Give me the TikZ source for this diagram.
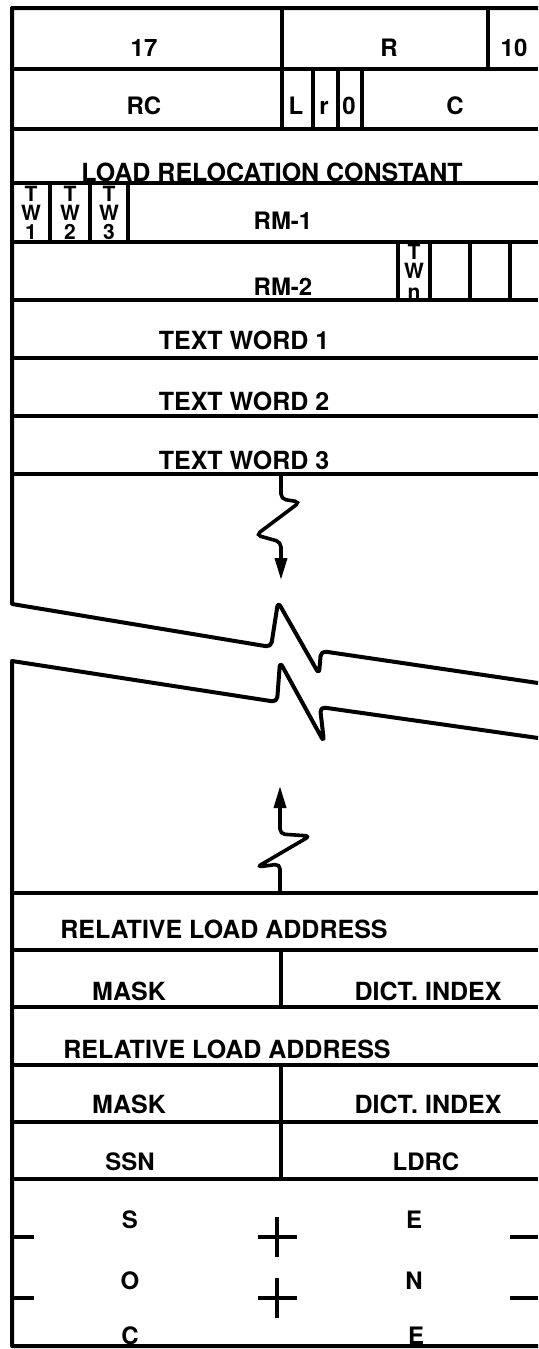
\documentclass[tikz,border=0pt]{standalone}
\usepackage{fontspec}
\newfontfamily\lblfont{TeX Gyre Heros}
\usetikzlibrary{arrows.meta}
\begin{document}
\begin{tikzpicture}[x=1pt,y=-1pt,
  rule/.style={line width=3.2pt},
  frame/.style={line width=4pt, line join=round},
  lbl/.style={anchor=base, inner sep=0pt, font=\lblfont\bfseries\fontsize{25}{25}\selectfont},
  sml/.style={anchor=base, inner sep=0pt, font=\lblfont\bfseries\fontsize{24}{24}\selectfont},
  tw/.style={anchor=base, inner sep=0pt, font=\lblfont\bfseries\fontsize{21}{21}\selectfont},
  flow/.style={line width=3.6pt, rounded corners=5pt, -{Triangle[length=22pt,width=12pt]}},
  tick/.style={line width=3.4pt}]
\useasboundingbox (0,0) rectangle (538,1349);

% outer frame, upper part with the break
\draw[frame] (538,8) -- (12,8) -- (12,604)
  [rounded corners=5pt] -- (271,647) -- (278,602) -- (319,674) -- (321,651) -- (538,683);
% outer frame, lower part with the break
\draw[frame] (538,738) [rounded corners=5pt] -- (320,707) -- (324,742) -- (280,662) -- (277,702)
  [sharp corners] -- (12,661) -- (12,1346) -- (538,1346);

% horizontal rules
\foreach \y in {69,129,183,242,300,358,416,474,893,950,1007,1065,1122,1179}
  \draw[rule] (12,\y) -- (538,\y);

% vertical dividers
\draw[rule] (282,8) -- (282,129);
\draw[rule] (488,8) -- (488,69);
\foreach \x in {313,338,362} \draw[rule] (\x,69) -- (\x,129);
\foreach \x in {50,90,128} \draw[rule] (\x,183) -- (\x,242);
\foreach \x in {398,430,470,510} \draw[rule] (\x,242) -- (\x,300);
\draw[rule] (281,950) -- (281,1007);
\draw[rule] (281,1065) -- (281,1179);

% header fields
\node[sml] (f17) at (144,56) {17};
\node[sml] (fR) at (389,56) {R};
\node[sml] (f10) at (514,56) {10};
\node[sml] (fRC) at (144,114) {RC};
\node[sml] (fL) at (296,114) {L};
\node[sml] (fr) at (324,114) {r};
\node[sml] (f0) at (349,114) {0};
\node[sml] (fC) at (455,114) {C};
\node[lbl] (lrc) at (272,181) {LOAD RELOCATION CONSTANT};

% relocation mask words
\foreach \x/\d [count=\i] in {31/1,70/2,109/3}{
  \node[tw] (tw\i t) at (\x,201) {T};
  \node[tw] (tw\i w) at (\x,220) {W};
  \node[tw] (tw\i n) at (\x,239) {\d};
}
\node[sml] (rm1) at (283,229) {RM-1};
\node[sml] (rm2) at (283,295) {RM-2};
\node[tw] (twnt) at (414,259) {T};
\node[tw] (twnw) at (414,278) {W};
\node[tw] (twnn) at (414,299) {n};

% text words
\node[lbl] (t1) at (244,349) {TEXT WORD 1};
\node[lbl] (t2) at (244,410) {TEXT WORD 2};
\node[lbl] (t3) at (244,469) {TEXT WORD 3};

% continuation arrows across the break
\coordinate (topA) at (281,474);
\coordinate (tipA) at (281,580);
\draw[flow] (topA) -- (281,499) -- (300,502) -- (256,535) -- (281,542) -- (tipA);
\coordinate (botB) at (280,893);
\coordinate (tipB) at (280,786);
\draw[flow] (botB) -- (280,864) -- (257,867) -- (310,836) -- (280,834) -- (tipB);

% relocation entries
\node[lbl] (rla1) at (224,938) {RELATIVE LOAD ADDRESS};
\node[lbl] (mask1) at (129,1000) {MASK};
\node[lbl] (dict1) at (428,1000) {DICT. INDEX};
\node[lbl] (rla2) at (227,1058) {RELATIVE LOAD ADDRESS};
\node[lbl] (mask2) at (129,1113) {MASK};
\node[lbl] (dict2) at (428,1113) {DICT. INDEX};
\node[sml] (ssn) at (130,1170) {SSN};
\node[sml] (ldrc) at (426,1170) {LDRC};

% end card
\node[sml] (eS) at (130,1228) {S};
\node[sml] (eE1) at (414,1228) {E};
\node[sml] (eO) at (130,1289) {O};
\node[sml] (eN) at (414,1289) {N};
\node[sml] (eC) at (130,1344) {C};
\node[sml] (eE2) at (416,1344) {E};
\foreach \y in {1237,1298}{
  \draw[tick] (12,\y) -- (34,\y);
  \draw[tick] (510,\y) -- (538,\y);
  \draw[tick] (258,\y) -- (297,\y);
  \draw[tick] (277,\y-20) -- (277,\y+20);
}
\end{tikzpicture}
\end{document}
